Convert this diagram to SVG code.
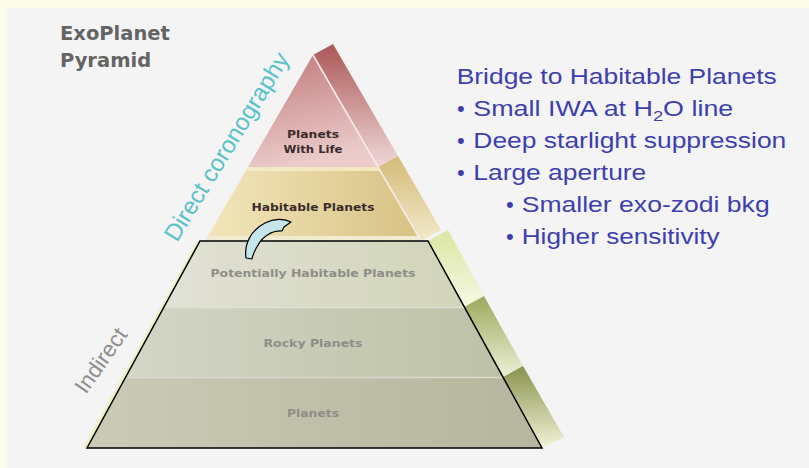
<svg xmlns="http://www.w3.org/2000/svg" width="809" height="468" viewBox="0 0 809 468">
  <defs>
    <linearGradient id="lifeFront" x1="0" y1="0" x2="0.25" y2="1">
      <stop offset="0" stop-color="#c07a7a"/>
      <stop offset="1" stop-color="#ebcaca"/>
    </linearGradient>
    <linearGradient id="lifeSide" x1="0" y1="0" x2="0" y2="1">
      <stop offset="0" stop-color="#ad5757"/>
      <stop offset="1" stop-color="#efd8d8"/>
    </linearGradient>
    <linearGradient id="habFront" x1="0" y1="0" x2="1" y2="0">
      <stop offset="0" stop-color="#f2e6bb"/>
      <stop offset="1" stop-color="#d8c283"/>
    </linearGradient>
    <linearGradient id="habSide" x1="0" y1="0" x2="0" y2="1">
      <stop offset="0" stop-color="#d3bb78"/>
      <stop offset="1" stop-color="#f3e9cb"/>
    </linearGradient>
    <linearGradient id="phFront" x1="0" y1="0" x2="1" y2="0">
      <stop offset="0" stop-color="#e1e1d6"/>
      <stop offset="1" stop-color="#d1d4b8"/>
    </linearGradient>
    <linearGradient id="rockyFront" x1="0" y1="0" x2="1" y2="0">
      <stop offset="0" stop-color="#d3d5c6"/>
      <stop offset="1" stop-color="#bcc2a6"/>
    </linearGradient>
    <linearGradient id="planetsFront" x1="0" y1="0" x2="1" y2="0">
      <stop offset="0" stop-color="#cacab6"/>
      <stop offset="1" stop-color="#b6b69e"/>
    </linearGradient>
    <linearGradient id="phSide" x1="0" y1="0" x2="0" y2="1">
      <stop offset="0" stop-color="#dce6a4"/>
      <stop offset="1" stop-color="#f6f8e2"/>
    </linearGradient>
    <linearGradient id="rockySide" x1="0" y1="0" x2="0" y2="1">
      <stop offset="0" stop-color="#9ba95e"/>
      <stop offset="1" stop-color="#eef1d6"/>
    </linearGradient>
    <linearGradient id="planetsSide" x1="0" y1="0" x2="0" y2="1">
      <stop offset="0" stop-color="#88924e"/>
      <stop offset="1" stop-color="#f3f3d6"/>
    </linearGradient>
    <style>
      .title { font-family: "DejaVu Sans", Verdana, sans-serif; font-weight: bold; font-size: 19.5px; fill: #646464; }
      .tier { font-family: "DejaVu Sans", Verdana, sans-serif; font-weight: bold; font-size: 11px; text-anchor: middle; }
      .upper { fill: #3a2c2c; }
      .lower { fill: #8e8e86; }
      .note { font-family: "Liberation Sans", Arial, sans-serif; font-size: 22px; fill: #3d3fae; }
      .axis { font-family: "Liberation Sans", Arial, sans-serif; }
      .edge { fill: none; stroke: #f7ecec; stroke-width: 1.5; }
    </style>
  </defs>

  <!-- page and panel -->
  <rect x="0" y="0" width="809" height="468" fill="#fdfbe9"/>
  <rect x="7" y="8" width="802" height="460" fill="#f4f4f4"/>

  <!-- title -->
  <text class="title" x="60" y="40">ExoPlanet</text>
  <text class="title" x="60" y="67">Pyramid</text>

  <!-- upper tiers -->
  <g id="tier-life">
    <polygon points="313,55 333,44 398,156 378,167" fill="url(#lifeSide)"/>
    <polygon points="313,55 378,167 248,167" fill="url(#lifeFront)"/>
    <line class="edge" x1="313" y1="55" x2="378" y2="167"/>
    <text class="tier upper" x="313" y="138" textLength="52" lengthAdjust="spacingAndGlyphs">Planets</text>
    <text class="tier upper" x="313" y="153" textLength="59" lengthAdjust="spacingAndGlyphs">With Life</text>
  </g>

  <g id="tier-habitable">
    <polygon points="378,167 398,156 441,230 421,241" fill="url(#habSide)"/>
    <polygon points="248,167 378,167 421,241 205,241" fill="url(#habFront)"/>
    <polygon points="248,167 378,167 380,171 246,171" fill="#f5edcc" opacity="0.8"/>
    <polygon points="208,236 418,236 421,241 205,241" fill="#f1ebd2"/>
    <line class="edge" x1="378" y1="167" x2="421" y2="241" stroke="#f6f0d8"/>
    <text class="tier upper" x="313" y="211" textLength="123" lengthAdjust="spacingAndGlyphs">Habitable Planets</text>
  </g>

  <!-- lower tiers -->
  <g id="tier-potentially-habitable">
    <polygon points="428,241 448,230 484,296 464,307" fill="url(#phSide)"/>
    <polygon points="200,241 428,241 464,307 164,307" fill="url(#phFront)"/>
    <text class="tier lower" x="313" y="277" textLength="205" lengthAdjust="spacingAndGlyphs">Potentially Habitable Planets</text>
  </g>

  <g id="tier-rocky">
    <polygon points="464,307 484,296 523,366 503,377" fill="url(#rockySide)"/>
    <polygon points="164,307 464,307 503,377 126,377" fill="url(#rockyFront)"/>
    <line x1="164" y1="307.5" x2="464" y2="307.5" stroke="#dfe1d4" stroke-width="1.5"/>
    <text class="tier lower" x="313" y="347" textLength="99" lengthAdjust="spacingAndGlyphs">Rocky Planets</text>
  </g>

  <g id="tier-planets">
    <polygon points="503,377 523,366 564,437 542,448" fill="url(#planetsSide)"/>
    <polygon points="126,377 503,377 542,448 87,448" fill="url(#planetsFront)"/>
    <line x1="126" y1="377.5" x2="503" y2="377.5" stroke="#d8dacb" stroke-width="1.5"/>
    <text class="tier lower" x="313" y="417" textLength="52" lengthAdjust="spacingAndGlyphs">Planets</text>
  </g>

  <!-- outline of the indirectly detected tiers -->
  <g id="indirect-frame">
    <line x1="198" y1="242" x2="84.5" y2="448" stroke="#eef1c6" stroke-width="3"/>
    <polygon points="200,241 428,241 542,448 87,448" fill="none" stroke="#000" stroke-width="1.5" stroke-linejoin="miter"/>
  </g>

  <!-- detection method labels -->
  <text class="axis" font-size="24" fill="#57c2c8" transform="translate(177,243) rotate(-58.5)">Direct coronography</text>
  <text class="axis" font-size="22.5" fill="#8e8e8e" transform="translate(86,395) rotate(-55)">Indirect</text>

  <!-- bridge arrow -->
  <g id="connectors">
    <path d="M246,258 C244,244 251,230 265,223 C274,218.5 284,218 291,222 L284,227 L282,231 C272,230.5 263,236 258,245 C255,250 253,254 252,259 Z" fill="#c4e6ea" stroke="#000" stroke-width="1.2" stroke-linejoin="round"/>
  </g>

  <!-- bridge requirements -->
  <g id="notes">
    <text class="note" x="456.7" y="84" textLength="320" lengthAdjust="spacingAndGlyphs">Bridge to Habitable Planets</text>
    <text class="note" x="457" y="116">•</text>
    <text class="note" x="473.3" y="116" textLength="260" lengthAdjust="spacingAndGlyphs">Small IWA at H<tspan font-size="15" dy="5">2</tspan><tspan dy="-5">O line</tspan></text>
    <text class="note" x="457" y="148">•</text>
    <text class="note" x="473.3" y="148" textLength="313" lengthAdjust="spacingAndGlyphs">Deep starlight suppression</text>
    <text class="note" x="457" y="180">•</text>
    <text class="note" x="473.3" y="180" textLength="173" lengthAdjust="spacingAndGlyphs">Large aperture</text>
    <text class="note" x="506" y="212">•</text>
    <text class="note" x="521.7" y="212" textLength="248" lengthAdjust="spacingAndGlyphs">Smaller exo-zodi bkg</text>
    <text class="note" x="506" y="244">•</text>
    <text class="note" x="521.7" y="244" textLength="198" lengthAdjust="spacingAndGlyphs">Higher sensitivity</text>
  </g>
</svg>
